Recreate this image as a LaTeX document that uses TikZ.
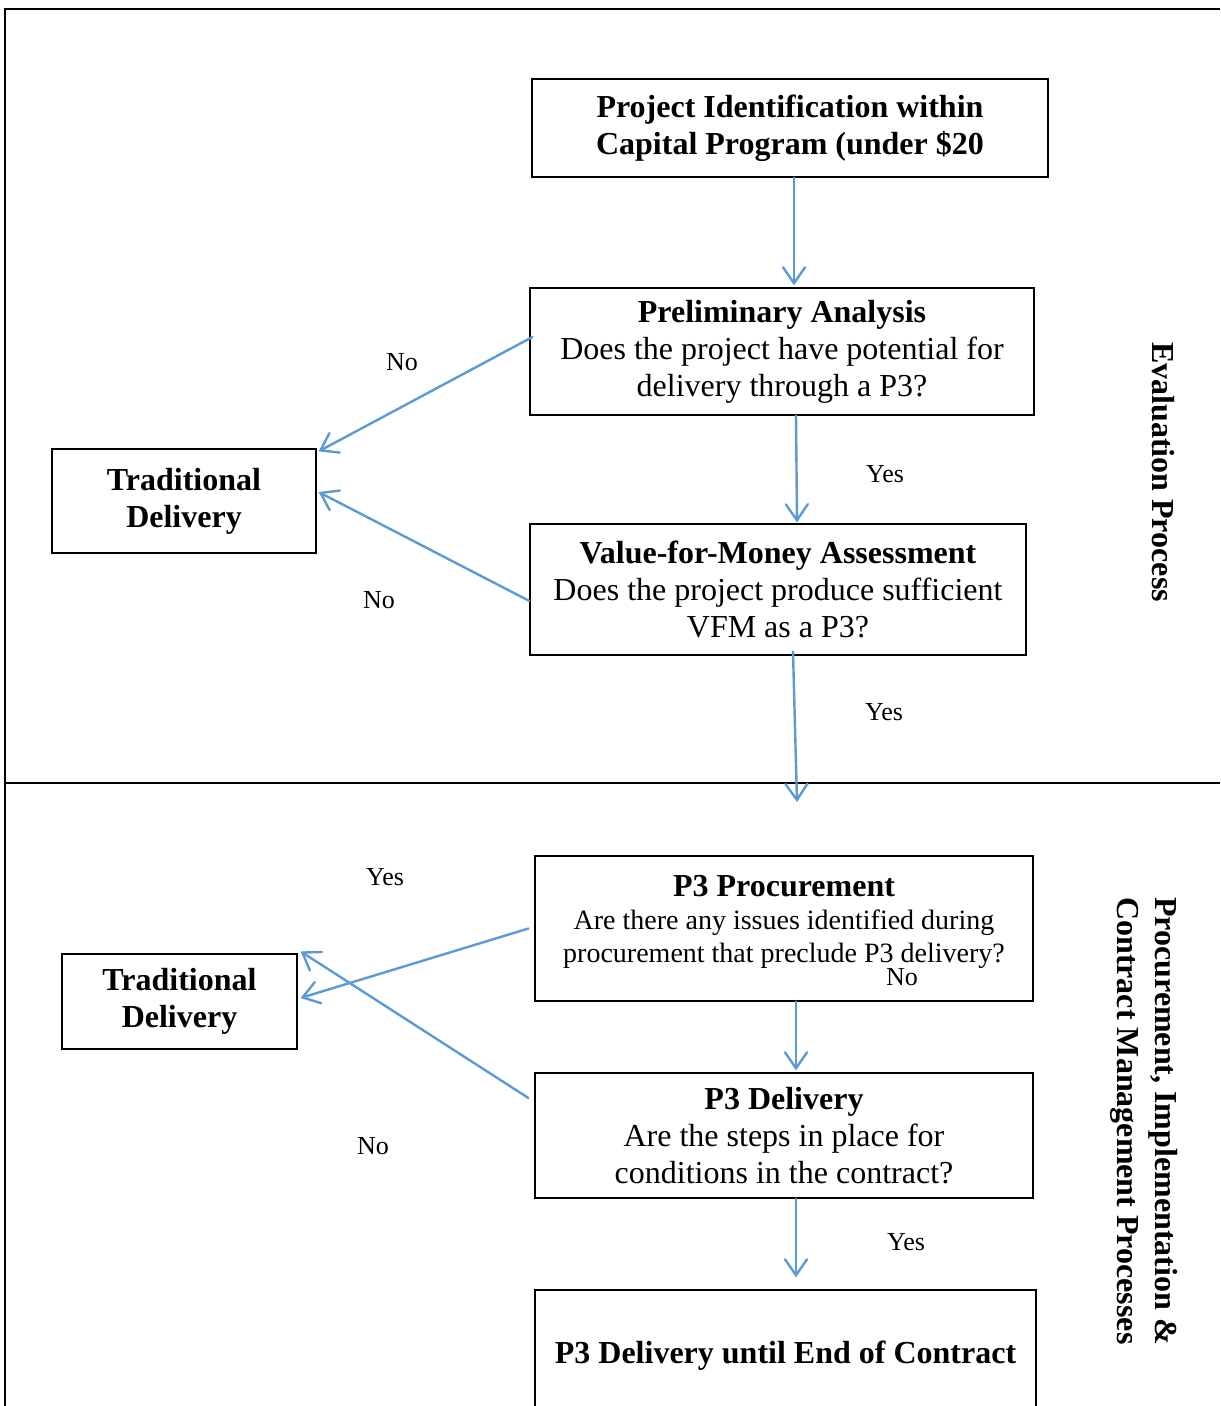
\documentclass[tikz,border=0pt]{standalone}
\usepackage{fontspec}
\setmainfont{Liberation Serif}
\usetikzlibrary{arrows.meta}
\definecolor{flowblue}{HTML}{5B9BD5}

\begin{document}
\begin{tikzpicture}[x=0.5pt, y=-0.5pt,
		box/.style={draw, line width=0.6pt, align=center, inner sep=0pt,
			font=\fontsize{16}{18.5}\selectfont},
		flow/.style={draw=flowblue, line width=1.2pt, line cap=round,
			-{Straight Barb[length=8pt, width=11pt, line cap=round]}},
		answer/.style={font=\fontsize{13}{15}\selectfont},
		side/.style={rotate=-90, align=left, font=\bfseries\fontsize{16}{19}\selectfont}]
		\useasboundingbox (0, 0) rectangle (1220, 1406);

		% frame and divider
		\draw[line width=0.8pt] (1220, 9) -- (5, 9) -- (5, 1420);
		\draw[line width=0.8pt] (5, 783) -- (1220, 783);

		% evaluation part
		\node[box, minimum width=258pt, minimum height=49pt] (proj) at (790, 128)
			{\bfseries Project Identification within\\ \bfseries Capital Program (under \$20};
		\node[box, minimum width=252pt, minimum height=63.5pt] (prelim) at (782, 351.5)
			{\bfseries Preliminary Analysis\\ Does the project have potential for\\ delivery through a P3?};
		\node[box, minimum width=248pt, minimum height=65.5pt] (vfm) at (778, 589.5)
			{\bfseries Value-for-Money Assessment\\ Does the project produce sufficient\\ VFM as a P3?};
		\node[box, minimum width=132pt, minimum height=52pt] (trad1) at (184, 501)
			{\bfseries Traditional\\ \bfseries Delivery};

		% procurement part
		\node[box, minimum width=249pt, minimum height=72.5pt] (proc) at (784, 928.5) {};
		\node[align=center, inner sep=0pt, font=\fontsize{14}{16.5}\selectfont] (proctext) at (784, 922)
			{{\fontsize{16}{16.5}\selectfont\bfseries P3 Procurement}\\ Are there any issues identified during\\ procurement that preclude P3 delivery?};
		\node[box, minimum width=249pt, minimum height=62.5pt] (deliv) at (784, 1135.5)
			{\bfseries P3 Delivery\\ Are the steps in place for\\ conditions in the contract?};
		\node[box, minimum width=250.5pt, minimum height=66pt] (final) at (785.5, 1356)
			{\bfseries P3 Delivery until End of Contract};
		\node[box, minimum width=117.5pt, minimum height=47.5pt] (trad2) at (179.5, 1001.5)
			{\bfseries Traditional\\ \bfseries Delivery};

		\coordinate (gate) at (797, 802);

		% connectors
		\draw[flow] ([xshift=2pt]proj.south) -- ([xshift=6pt, yshift=1pt]prelim.north);
		\draw[flow] ([xshift=7pt]prelim.south) -- ([xshift=9.5pt, yshift=0.5pt]vfm.north);
		\draw[flow] ([xshift=1.5pt, yshift=7.25pt]prelim.west) -- ([xshift=1pt, yshift=-1.5pt]trad1.north east);
		\draw[flow] ([yshift=-5.75pt]vfm.west) -- ([xshift=1pt, yshift=4.5pt]trad1.east);
		\draw[flow] ([xshift=7.5pt, yshift=2pt]vfm.south) -- (gate);
		\draw[flow] ([xshift=-3pt]proc.west) -- ([xshift=1.5pt, yshift=1.75pt]trad2.east);
		\draw[flow] ([xshift=-3pt, yshift=18.75pt]deliv.west) -- ([xshift=1.5pt, yshift=1pt]trad2.north east);
		\draw[flow] ([xshift=6pt]proc.south) -- ([xshift=6pt, yshift=1pt]deliv.north);
		\draw[flow] ([xshift=6pt]deliv.south) -- ([xshift=5.25pt, yshift=6pt]final.north);

		% answers
		\node[answer] (no1) at (402, 362) {No};
		\node[answer] (yes1) at (885, 474) {Yes};
		\node[answer] (no2) at (379, 600) {No};
		\node[answer] (yes2) at (884, 712) {Yes};
		\node[answer] (yes3) at (385, 877) {Yes};
		\node[answer] (no3) at (902, 977) {No};
		\node[answer] (no4) at (373, 1146) {No};
		\node[answer] (yes4) at (906, 1242) {Yes};

		% side titles
		\node[side] (evaltitle) at (1163, 472) {Evaluation Process};
		\node[side] (proctitle) at (1144, 1121) {Procurement, Implementation \&\\ Contract Management Processes};
	\end{tikzpicture}
\end{document}
